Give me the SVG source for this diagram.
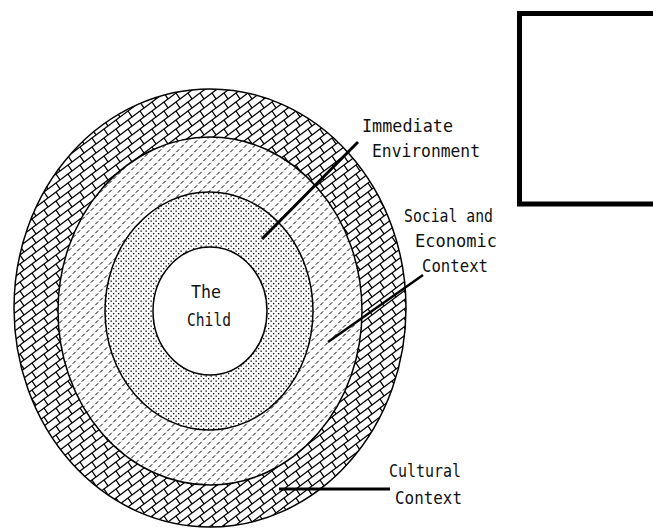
<svg xmlns="http://www.w3.org/2000/svg" width="653" height="531" viewBox="0 0 653 531">
  <style>
    .ring { stroke: #000; stroke-width: 1.5; }
    .lbl { font-family: "DejaVu Sans Mono", "Liberation Mono", monospace; font-size: 17.5px; fill: #111; }
    .conn { stroke: #000; stroke-linecap: butt; fill: none; }
  </style>
  <defs>
    <pattern id="bricks" patternUnits="userSpaceOnUse" width="12" height="9">
      <rect width="12" height="9" fill="#fff"/>
      <path d="M-1,9.75 L13,-0.75 M-1,0.75 L1,-0.75 M11,9.75 L13,8.25 M8,3 L12,9 M-4,3 L0,9" stroke="#000" stroke-width="1.3" fill="none"/>
    </pattern>
    <pattern id="dashes" patternUnits="userSpaceOnUse" width="9" height="9">
      <rect width="9" height="9" fill="#fff"/>
      <path d="M0.8,3.7 L3.7,0.8 M5.3,8.2 L8.2,5.3" stroke="#000" stroke-width="1" fill="none"/>
    </pattern>
    <pattern id="dots" patternUnits="userSpaceOnUse" width="5" height="5">
      <rect width="5" height="5" fill="#fff"/>
      <rect x="0.5" y="0.5" width="1.3" height="1.3" fill="#000"/>
      <rect x="3" y="3" width="1.3" height="1.3" fill="#000"/>
    </pattern>
  </defs>
  <rect width="653" height="531" fill="#fff"/>

  <g id="cultural-context">
    <ellipse class="ring" cx="210" cy="308" rx="196" ry="219" fill="url(#bricks)"/>
  </g>
  <g id="social-economic-context">
    <ellipse class="ring" cx="210" cy="311" rx="152" ry="174" fill="url(#dashes)"/>
  </g>
  <g id="immediate-environment">
    <ellipse class="ring" cx="209" cy="311" rx="104" ry="119" fill="url(#dots)"/>
  </g>
  <g id="the-child">
    <ellipse class="ring" cx="210" cy="311" rx="57" ry="64" fill="#fff"/>
    <text class="lbl" x="191" y="298" textLength="30" lengthAdjust="spacingAndGlyphs">The</text>
    <text class="lbl" x="187" y="326" textLength="44" lengthAdjust="spacingAndGlyphs">Child</text>
  </g>

  <g id="connectors">
    <line class="conn" x1="262" y1="239" x2="358" y2="142" stroke-width="3"/>
    <line class="conn" x1="328" y1="342" x2="423" y2="275" stroke-width="2.5"/>
    <line class="conn" x1="279" y1="489" x2="390" y2="489" stroke-width="3"/>
  </g>

  <g id="label-immediate">
    <text class="lbl" x="362" y="132" textLength="91" lengthAdjust="spacingAndGlyphs">Immediate</text>
    <text class="lbl" x="372" y="157" textLength="108" lengthAdjust="spacingAndGlyphs">Environment</text>
  </g>
  <g id="label-social">
    <text class="lbl" x="404" y="222" textLength="89" lengthAdjust="spacingAndGlyphs">Social and</text>
    <text class="lbl" x="415" y="247" textLength="82" lengthAdjust="spacingAndGlyphs">Economic</text>
    <text class="lbl" x="422" y="272" textLength="66" lengthAdjust="spacingAndGlyphs">Context</text>
  </g>
  <g id="label-cultural">
    <text class="lbl" x="389" y="477" textLength="72" lengthAdjust="spacingAndGlyphs">Cultural</text>
    <text class="lbl" x="395" y="504" textLength="67" lengthAdjust="spacingAndGlyphs">Context</text>
  </g>

  <g id="box">
    <rect x="519.5" y="13.5" width="145" height="190.5" fill="none" stroke="#000" stroke-width="5"/>
  </g>
</svg>
